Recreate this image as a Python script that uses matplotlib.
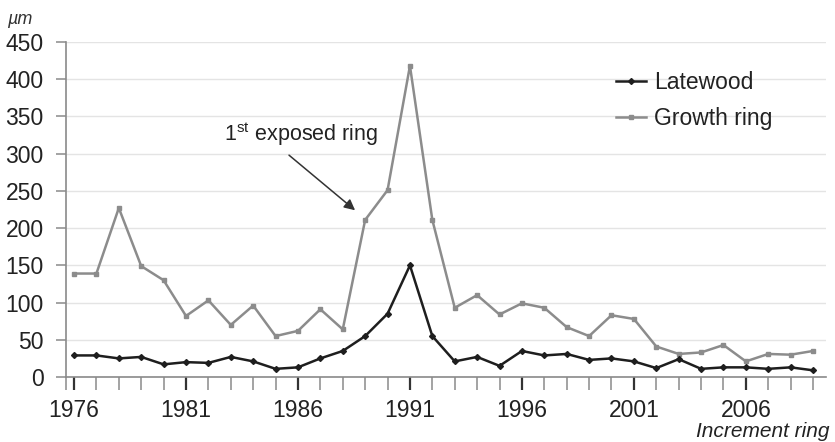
import matplotlib
matplotlib.use("Agg")
import matplotlib.pyplot as plt
from matplotlib.ticker import FixedLocator, MultipleLocator

plt.rcParams['font.family'] = ['Liberation Sans', 'DejaVu Sans']

years = list(range(1976, 2010))
latewood = [29, 29, 25, 27, 17, 20, 19, 27, 21, 11,
            13, 25, 35, 55, 85, 150, 55, 21, 27, 15,
            35, 29, 31, 23, 25, 21, 12, 24, 11, 13,
            13, 11, 13, 9]
growth_ring = [139, 139, 227, 149, 130, 82, 103, 70, 96, 55,
               62, 91, 64, 211, 251, 418, 211, 93, 110, 84,
               99, 93, 67, 55, 83, 78, 41, 31, 33, 43,
               21, 31, 30, 35]
major_years = [1976, 1981, 1986, 1991, 1996, 2001, 2006]

fig = plt.figure(figsize=(8.35, 4.42), dpi=100)
ax = fig.add_axes([0.079, 0.147, 0.91, 0.758])

ax.plot(years, latewood, color='#1e1e1e', lw=1.8, marker='D', ms=3,
        label='Latewood', zorder=4)
ax.plot(years, growth_ring, color='#8c8c8c', lw=1.8, marker='s', ms=3,
        label='Growth ring', zorder=3)

ax.set_xlim(1975.64, 2009.57)
ax.set_ylim(0, 450)
ax.yaxis.set_major_locator(MultipleLocator(50))
ax.xaxis.set_major_locator(FixedLocator(major_years))
ax.xaxis.set_minor_locator(FixedLocator([1975.64] + years))

ax.grid(axis='y', color='#e4e4e4', lw=1)
ax.set_axisbelow(True)
for s in ('top', 'right'):
    ax.spines[s].set_visible(False)
for s in ('left', 'bottom'):
    ax.spines[s].set_color('#8a8a8a')
    ax.spines[s].set_linewidth(1.2)

ax.tick_params(axis='y', direction='out', length=7, width=1.1,
               color='#8a8a8a', labelsize=16.5, labelcolor='#222222', pad=9)
ax.tick_params(axis='x', which='major', direction='out', length=9, width=1.6,
               color='#333333', labelsize=16.5, labelcolor='#222222', pad=7)
ax.tick_params(axis='x', which='minor', direction='out', length=9, width=1.1,
               color='#8a8a8a')

fig.text(0.009, 0.955, 'µm', fontsize=13, style='italic', color='#333333',
         va='center', ha='left')
fig.text(0.994, 0.012, 'Increment ring', fontsize=15, style='italic',
         color='#222222', ha='right', va='baseline')

# arrow pointing at the first exposed ring
ax.annotate('', xy=(1988.55, 224), xytext=(1985.6, 298),
            arrowprops=dict(arrowstyle='-|>', color='#333333', lw=1.1,
                            mutation_scale=16, shrinkA=0, shrinkB=0))
ax.text(1982.7, 308, r'1$^{\mathregular{st}}$ exposed ring', fontsize=15.5,
        color='#222222', va='bottom', ha='left')

leg = ax.legend(loc='upper left', bbox_to_anchor=(0.712, 0.94), frameon=False,
                fontsize=16.5, handlelength=1.3, handletextpad=0.35,
                labelspacing=0.55, borderaxespad=0)
for t in leg.get_texts():
    t.set_color('#222222')

fig.savefig('out.png', dpi=100)
